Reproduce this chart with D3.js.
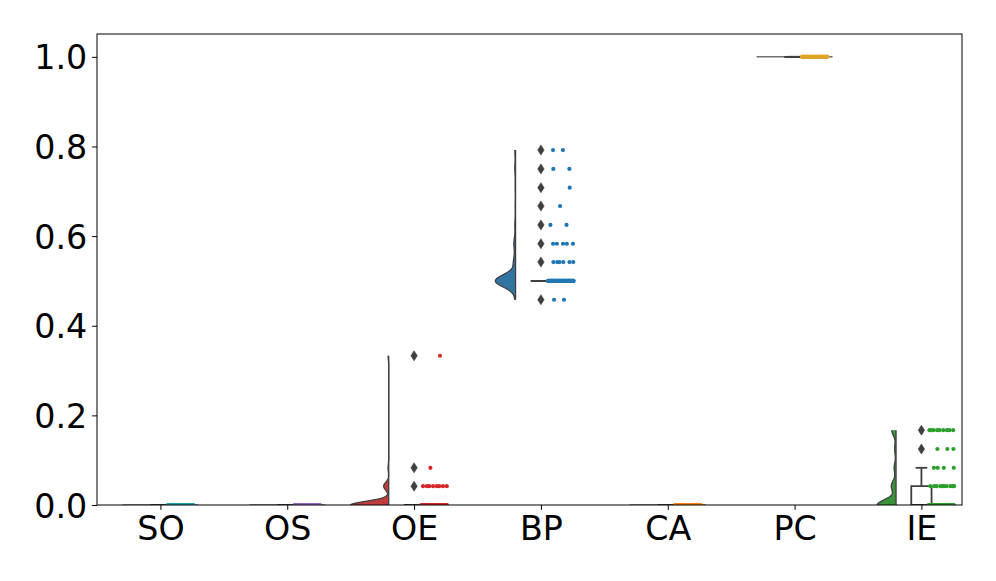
<!DOCTYPE html>
<html>
<head>
<meta charset="utf-8">
<script src="https://cdn.jsdelivr.net/npm/d3@7"></script>
<style>
  html, body { margin: 0; padding: 0; background: #fff; }
  svg { display: block; }
</style>
</head>
<body>
<svg id="chart" width="996" height="581"></svg>
<script>
// ---------------- data ----------------
const categories = ["SO", "OS", "OE", "BP", "CA", "PC", "IE"];
const colors = ["#1ba3b3", "#9467bd", "#d62728", "#1f77b4", "#ff7f0e", "#e0a526", "#2ca02c"];

// distinct observed values (levels) and how many observations sit at each level
const levelsSO = [0];
const countsSO = [60];
const levelsOS = [0];
const countsOS = [60];
const levelsOE = [0, 0.042, 0.083, 0.333];
const countsOE = [60, 8, 1, 1];
const levelsBP = [0.458, 0.5, 0.542, 0.583, 0.625, 0.667, 0.708, 0.75, 0.792];
const countsBP = [2, 60, 6, 5, 2, 1, 1, 2, 2];
const levelsCA = [0];
const countsCA = [60];
const levelsPC = [1.0];
const countsPC = [60];
const levelsIE = [0, 0.042, 0.083, 0.125, 0.167];
const countsIE = [40, 10, 4, 3, 9];

const yTicks = [0, 0.2, 0.4, 0.6, 0.8, 1.0];

const groups = [
  [levelsSO, countsSO], [levelsOS, countsOS], [levelsOE, countsOE],
  [levelsBP, countsBP], [levelsCA, countsCA], [levelsPC, countsPC],
  [levelsIE, countsIE]
];

// ---------------- layout ----------------
const M = { left: 97, right: 962, top: 34, bottom: 505 };
const svg = d3.select("#chart");

const x = d3.scaleLinear().domain([-0.5, 6.32]).range([M.left, M.right]);
const y = d3.scaleLinear().domain([0, 1.051]).range([M.bottom, M.top]);
const step = x(1) - x(0);

svg.append("defs").append("clipPath").attr("id", "clip")
  .append("rect").attr("x", M.left).attr("y", M.top)
  .attr("width", M.right - M.left).attr("height", M.bottom - M.top);

const plot = svg.append("g").attr("clip-path", "url(#clip)");

const edge = "#3f3f3f";
function desat(c) { const h = d3.hsl(c); h.s *= 0.75; return h.formatHex(); }

// expand observations
const obs = groups.map(([lv, ct]) => {
  const arr = [];
  lv.forEach((v, i) => { for (let k = 0; k < ct[i]; k++) arr.push(v); });
  return arr;
});

// ---------------- KDE (half violins) ----------------
const bwFactor = 0.2;
const kdes = obs.map(vals => {
  const mn = d3.min(vals), mx = d3.max(vals);
  if (mn === mx) return null;
  const sd = d3.deviation(vals);
  const bw = sd * bwFactor;
  const n = vals.length;
  const grid = d3.range(0, 301).map(i => mn + (mx - mn) * i / 300);
  return grid.map(g => {
    let s = 0;
    for (const v of vals) { const z = (g - v) / bw; s += Math.exp(-0.5 * z * z); }
    return [g, s / (n * bw * Math.sqrt(2 * Math.PI))];
  });
});
const maxDens = d3.max(kdes.filter(k => k), k => d3.max(k, d => d[1]));
const halfW = 0.3 * step;
const violOffset = -0.2 * step;

kdes.forEach((k, i) => {
  const x0 = x(i) + violOffset;
  if (!k) {
    const v = obs[i][0];
    plot.append("line")
      .attr("x1", x(i) - 0.3 * step).attr("x2", x(i) + 0.3 * step)
      .attr("y1", y(v)).attr("y2", y(v))
      .attr("stroke", "#707070").attr("stroke-width", 1.5);
    return;
  }
  const area = d3.area()
    .y(d => y(d[0]))
    .x0(x0)
    .x1(d => x0 - d[1] / maxDens * halfW);
  plot.append("path").datum(k).attr("d", area)
    .attr("fill", desat(colors[i]))
    .attr("stroke", "none");
  const line = d3.line().x(d => x0 - d[1] / maxDens * halfW).y(d => y(d[0]));
  plot.append("path").datum(k).attr("d", line)
    .attr("fill", "none").attr("stroke", edge).attr("stroke-width", 1.3);
  plot.append("line")
    .attr("x1", x0).attr("x2", x0)
    .attr("y1", y(k[0][0])).attr("y2", y(k[k.length - 1][0]))
    .attr("stroke", edge).attr("stroke-width", 1.3);
});

// ---------------- boxplots ----------------
const boxHalf = 0.08 * step, capHalf = 0.046 * step;
obs.forEach((vals, i) => {
  const s = vals.slice().sort(d3.ascending);
  const q1 = d3.quantileSorted(s, 0.25), med = d3.quantileSorted(s, 0.5), q3 = d3.quantileSorted(s, 0.75);
  const iqr = q3 - q1;
  const hiF = q3 + 1.5 * iqr, loF = q1 - 1.5 * iqr;
  const wHi = d3.max(s.filter(v => v <= hiF));
  const wLo = d3.min(s.filter(v => v >= loF));
  const cx = x(i);
  const g = plot.append("g").attr("stroke", edge).attr("stroke-width", 1.8).attr("fill", "none");
  g.append("line").attr("x1", cx).attr("x2", cx).attr("y1", y(q3)).attr("y2", y(wHi));
  g.append("line").attr("x1", cx).attr("x2", cx).attr("y1", y(q1)).attr("y2", y(wLo));
  g.append("line").attr("x1", cx - capHalf).attr("x2", cx + capHalf).attr("y1", y(wHi)).attr("y2", y(wHi));
  g.append("line").attr("x1", cx - capHalf).attr("x2", cx + capHalf).attr("y1", y(wLo)).attr("y2", y(wLo));
  g.append("path").attr("d",
    `M${cx - boxHalf},${y(q1)}L${cx + boxHalf},${y(q1)}L${cx + boxHalf},${y(q3)}L${cx - boxHalf},${y(q3)}Z`);
  g.append("line").attr("x1", cx - boxHalf).attr("x2", cx + boxHalf).attr("y1", y(med)).attr("y2", y(med));
  const fl = Array.from(new Set(s.filter(v => v > wHi || v < wLo)));
  plot.selectAll(null).data(fl).enter().append("path")
    .attr("d", d => `M${cx},${y(d) - 5}L${cx + 3.2},${y(d)}L${cx},${y(d) + 5}L${cx - 3.2},${y(d)}Z`)
    .attr("fill", edge).attr("stroke", edge).attr("stroke-width", 0.6);
});

// ---------------- strip points ----------------
const phi = 0.6180339887;
groups.forEach(([lv, ct], i) => {
  const pts = [];
  lv.forEach((v, li) => {
    for (let k = 0; k < ct[li]; k++) {
      const frac = ((k + 1) * phi + li * 0.37) % 1;
      pts.push({ v, off: 0.055 + frac * 0.205 });
    }
  });
  plot.selectAll(null).data(pts).enter().append("circle")
    .attr("cx", d => x(i) + d.off * step)
    .attr("cy", d => y(d.v))
    .attr("r", 2.1)
    .attr("fill", colors[i]);
});

// ---------------- axes ----------------
const fontSize = 33.3;
const tickLen = 4.86, tickPad = 4.86;

const xAxis = svg.append("g").attr("transform", `translate(0,${M.bottom})`)
  .call(d3.axisBottom(x).tickValues(d3.range(categories.length))
    .tickFormat(i => categories[i]).tickSize(tickLen).tickPadding(tickPad).tickSizeOuter(0));
xAxis.select(".domain").remove();
xAxis.selectAll("text").attr("font-family", "DejaVu Sans").attr("font-size", fontSize)
  .attr("fill", "#000").attr("dy", "0.76em");
xAxis.selectAll("line").attr("stroke", "#000").attr("stroke-width", 1);

const yAxis = svg.append("g").attr("transform", `translate(${M.left},0)`)
  .call(d3.axisLeft(y).tickValues(yTicks).tickFormat(d3.format(".1f"))
    .tickSize(tickLen).tickPadding(tickPad).tickSizeOuter(0));
yAxis.select(".domain").remove();
yAxis.selectAll("text").attr("font-family", "DejaVu Sans").attr("font-size", fontSize)
  .attr("fill", "#000").attr("dy", "0.36em");
yAxis.selectAll("line").attr("stroke", "#000").attr("stroke-width", 1);

svg.append("rect").attr("x", M.left).attr("y", M.top)
  .attr("width", M.right - M.left).attr("height", M.bottom - M.top)
  .attr("fill", "none").attr("stroke", "#000").attr("stroke-width", 1);
</script>
</body>
</html>
